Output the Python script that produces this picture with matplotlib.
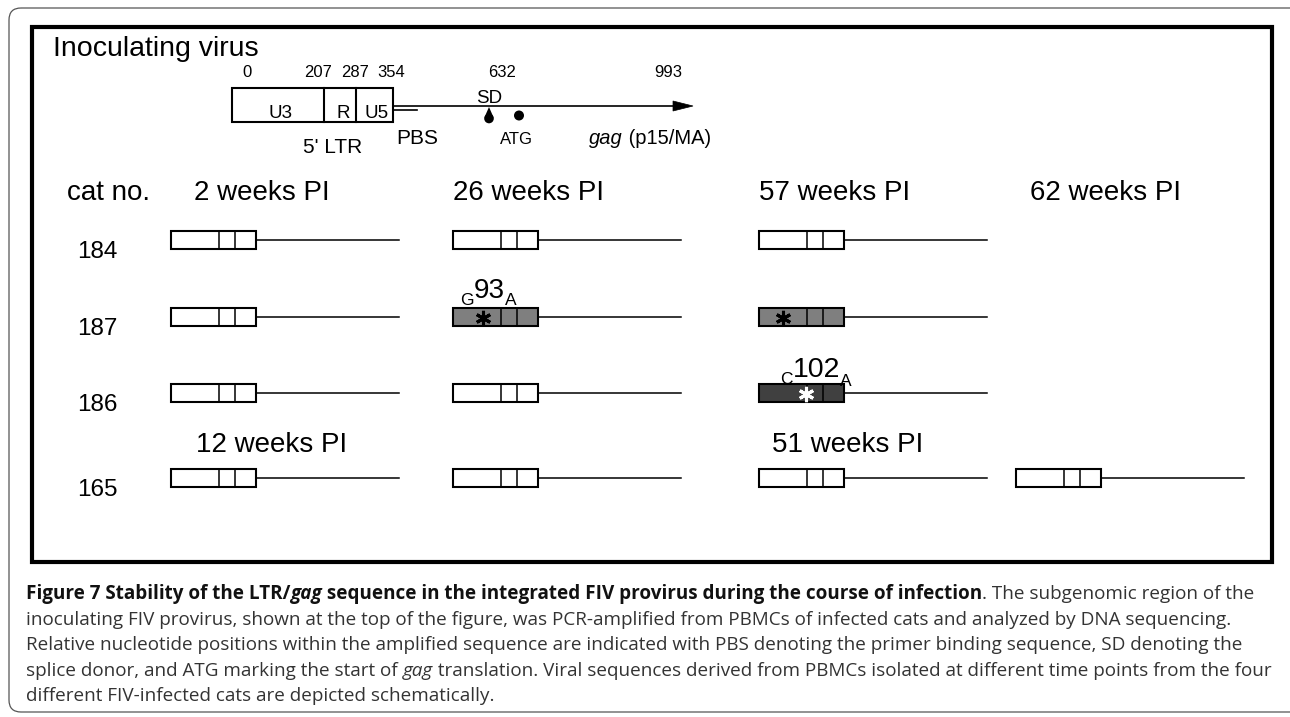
import matplotlib
matplotlib.use('Agg')
import matplotlib.pyplot as plt
from matplotlib.patches import Rectangle, Polygon, Circle, FancyBboxPatch

W, H = 1290, 717

# ---- data ----
nt_positions = ['0', '207', '287', '354', '632', '993']
nt_label_x = [247, 318, 355, 391, 502, 668]
ltr_regions = ['U3', 'R', 'U5']
ltr_edges = [232, 324, 356, 393]          # box left, dividers, box right
ltr_label_x = [280, 343, 377]

time_points = ['2 weeks PI', '26 weeks PI', '57 weeks PI', '62 weeks PI']
time_x = [194, 453, 759, 1030]
time_points_165 = ['12 weeks PI', '51 weeks PI']
time_x_165 = [196, 772]

cats = ['184', '187', '186', '165']
row_y = [240, 317, 393, 478]
col_x = [171, 453, 759, 1016]
# sequence state per sample (None = not sampled)
cat_184 = ['wt', 'wt', 'wt', None]
cat_187 = ['wt', 'G93A', 'G93A', None]
cat_186 = ['wt', 'wt', 'C102A', None]
cat_165 = ['wt', 'wt', 'wt', 'wt']
samples = [cat_184, cat_187, cat_186, cat_165]

state_fill = {'wt': 'white', 'G93A': '#7f7f7f', 'C102A': '#404040'}
state_star = {'G93A': 'black', 'C102A': 'white'}

caption = [
    [("Figure 7 Stability of the LTR/", dict(weight='bold', color='#111111')),
     ("gag", dict(weight='bold', style='italic', color='#111111')),
     (" sequence in the integrated FIV provirus during the course of infection", dict(weight='bold', color='#111111')),
     (". The subgenomic region of the", dict(color='#333333'))],
    [("inoculating FIV provirus, shown at the top of the figure, was PCR-amplified from PBMCs of infected cats and analyzed by DNA sequencing.", dict(color='#333333'))],
    [("Relative nucleotide positions within the amplified sequence are indicated with PBS denoting the primer binding sequence, SD denoting the", dict(color='#333333'))],
    [("splice donor, and ATG marking the start of ", dict(color='#333333')),
     ("gag", dict(style='italic', color='#333333')),
     (" translation. Viral sequences derived from PBMCs isolated at different time points from the four", dict(color='#333333'))],
    [("different FIV-infected cats are depicted schematically.", dict(color='#333333'))],
]
caption_right = [1278, 1262, 1255, 1264, 580]

plt.rcParams['font.family'] = ['Liberation Sans', 'DejaVu Sans']

fig = plt.figure(figsize=(W / 100, H / 100), dpi=100)
ax = fig.add_axes([0, 0, 1, 1])
ax.set_xlim(0, W)
ax.set_ylim(H, 0)
ax.axis('off')
r = fig.canvas.get_renderer()


def seg_width(txt, kw):
    kw2 = {k: v for k, v in kw.items() if k not in ('color', 'dy')}
    a = ax.text(0, 0, txt + '|', **kw2)
    b = ax.text(0, 0, '|', **kw2)
    w = a.get_window_extent(r).width - b.get_window_extent(r).width
    a.remove()
    b.remove()
    return w


def rich(x, y, segs, **common):
    for txt, kw in segs:
        kw = dict(common, **kw)
        dy = kw.pop('dy', 0)
        ax.text(x, y + dy, txt, va='baseline', ha='left', **kw)
        x += seg_width(txt, kw)
    return x


# frames
ax.add_patch(FancyBboxPatch((9, 8), 1320, 704, boxstyle='round,pad=0,rounding_size=12',
                            fill=False, ec='#555555', lw=0.9))
ax.add_patch(Rectangle((32, 27), 1240, 535, fill=False, ec='black', lw=3.0))

# ---- inoculating virus schematic ----
ax.text(53, 56, 'Inoculating virus', fontsize=20.5, va='baseline')
for lab, x in zip(nt_positions, nt_label_x):
    ax.text(x, 77, lab, fontsize=12, ha='center', va='baseline')

ltr_top, ltr_bot = 88, 122
ax.add_patch(Rectangle((ltr_edges[0], ltr_top), ltr_edges[-1] - ltr_edges[0], ltr_bot - ltr_top,
                       fill=False, ec='black', lw=1.5))
for x in ltr_edges[1:-1]:
    ax.plot([x, x], [ltr_top, ltr_bot], color='black', lw=1.5)
for lab, x in zip(ltr_regions, ltr_label_x):
    ax.text(x, 118, lab, fontsize=13.5, ha='center', va='baseline')

line_y = 106
arrow_end = 673
ax.plot([ltr_edges[-1], arrow_end], [line_y, line_y], color='black', lw=1.2)
ax.plot([ltr_edges[-1], 417], [line_y + 4, line_y + 4], color='black', lw=1.2)
ax.add_patch(Polygon([(arrow_end, line_y - 5), (arrow_end + 20, line_y), (arrow_end, line_y + 5)],
                     closed=True, fc='black', ec='black', lw=0.5))

sd_x, atg_x = 489, 519
ax.text(sd_x, 103, 'SD', fontsize=13.5, ha='center', va='baseline')
ax.add_patch(Circle((sd_x, 118.5), 4.8, fc='black', ec='none'))
ax.add_patch(Polygon([(sd_x - 4.6, 117.5), (sd_x, 107), (sd_x + 4.6, 117.5)], closed=True,
                     fc='black', ec='none'))
ax.add_patch(Circle((atg_x, 115.5), 5, fc='black', ec='none'))

ax.text(333, 153, "5' LTR", fontsize=15, ha='center', va='baseline')
ax.text(417, 144, 'PBS', fontsize=15, ha='center', va='baseline')
ax.text(516, 144, 'ATG', fontsize=12, ha='center', va='baseline')
rich(589, 144, [('gag', dict(style='italic')), (' (p15/MA)', {})], fontsize=14.5)

# ---- cats table ----
ax.text(67, 200, 'cat no.', fontsize=20, va='baseline')
for lab, x in zip(time_points, time_x):
    ax.text(x, 200, lab, fontsize=20, va='baseline')
for lab, x in zip(time_points_165, time_x_165):
    ax.text(x, 452, lab, fontsize=20, va='baseline')

box_w, box_h, tail = 85, 18, 228
div = [48, 64]
for cat, y, states in zip(cats, row_y, samples):
    ax.text(97, y + 18, cat, fontsize=17.5, ha='center', va='baseline')
    for x0, st in zip(col_x, states):
        if st is None:
            continue
        ax.plot([x0 + box_w, x0 + tail], [y, y], color='black', lw=1.1, zorder=1)
        ax.add_patch(Rectangle((x0, y - box_h / 2), box_w, box_h, fc=state_fill[st],
                               ec='black', lw=1.5, zorder=2))
        for d in div:
            ax.plot([x0 + d, x0 + d], [y - box_h / 2, y + box_h / 2], color='black', lw=1.1, zorder=3)
        if st in state_star:
            sx = x0 + (47 if st == 'C102A' else (30 if x0 == col_x[1] else 24))
            ax.plot(sx, y + 1, marker=(6, 2, 0), ms=11, mew=2.2, color=state_star[st], zorder=4)

# mutation labels
rich(460, 305, [('G', dict(fontsize=12.5)), ('93', dict(fontsize=20, dy=-7)), ('A', dict(fontsize=12.5))])
rich(780, 384, [('C', dict(fontsize=12.5)), ('102', dict(fontsize=20.5, dy=-7)), ('A', dict(fontsize=12.5, dy=2))])

# ---- caption ----
cap_font = 'Open Sans'
cap_x = 26
fits = []
for segs, right in zip(caption[:4], caption_right[:4]):
    w12 = sum(seg_width(t, dict(kw, fontsize=12, family=cap_font)) for t, kw in segs)
    fits.append(12 * (right - cap_x) / w12)
cap_size = min(fits)
cap_base = [599, 625, 650, 676, 701]
for segs, yb in zip(caption, cap_base):
    rich(cap_x, yb, segs, fontsize=cap_size, family=cap_font)

fig.savefig('out.png', dpi=100)
